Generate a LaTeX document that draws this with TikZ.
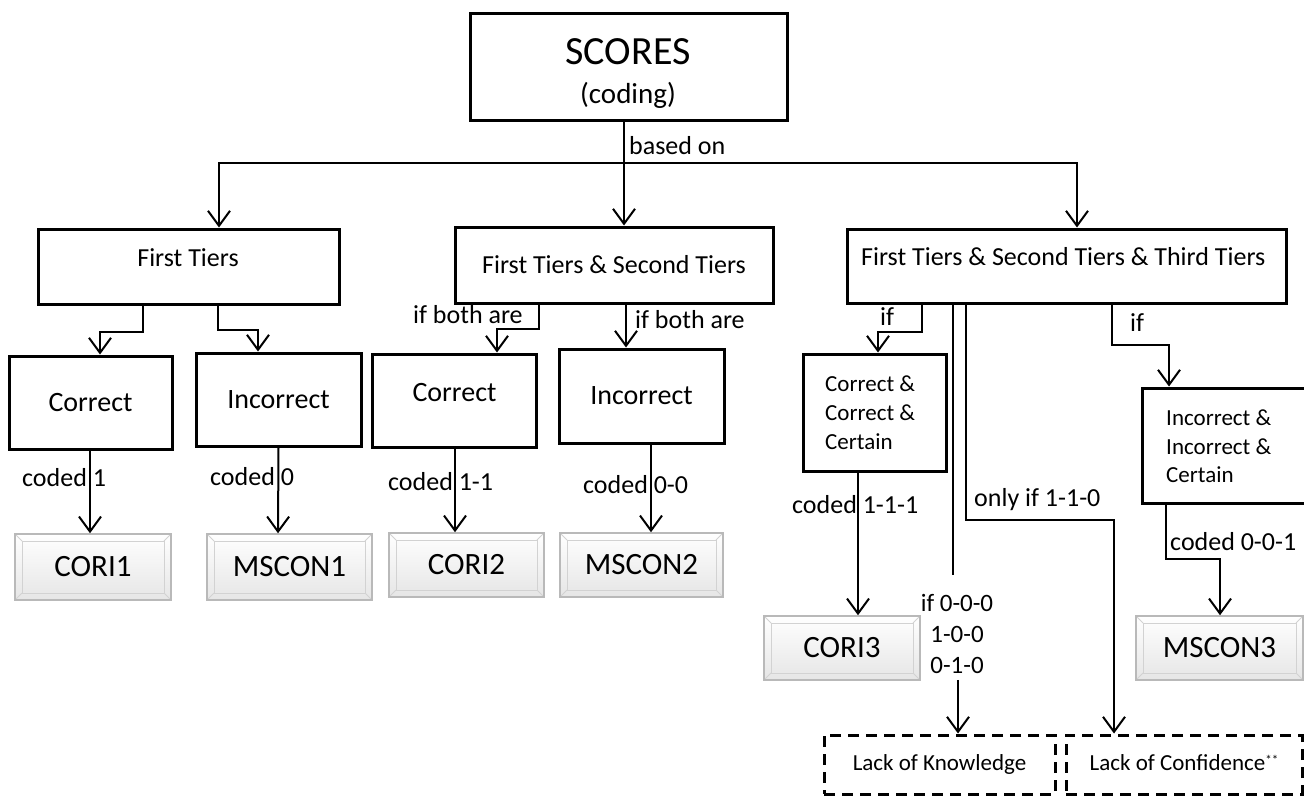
\documentclass[tikz,border=0pt]{standalone}
\usepackage{fontspec}
\setmainfont{Carlito}
\usetikzlibrary{arrows.meta}
\newcommand{\fsz}[1]{\fontsize{#1}{#1}\selectfont}
\begin{document}
\begin{tikzpicture}[x=1pt,y=-1pt,
  box/.style={draw, line width=3pt, inner sep=0pt},
  res/.style={draw=gray!55, line width=1.5pt, inner sep=0pt, top color=white, bottom color=gray!20,
    font=\fsz{31},
    path picture={
      \draw[gray!35, line width=.8pt]
        ([xshift=7pt,yshift=7pt]path picture bounding box.south west) rectangle
        ([xshift=-7pt,yshift=-7pt]path picture bounding box.north east);
      \draw[gray!35, line width=.8pt]
        (path picture bounding box.south west) -- ([xshift=7pt,yshift=7pt]path picture bounding box.south west)
        (path picture bounding box.north east) -- ([xshift=-7pt,yshift=-7pt]path picture bounding box.north east)
        (path picture bounding box.north west) -- ([xshift=7pt,yshift=-7pt]path picture bounding box.north west)
        (path picture bounding box.south east) -- ([xshift=-7pt,yshift=7pt]path picture bounding box.south east);
    }},
  dbox/.style={draw, line width=3pt, dash pattern=on 11pt off 7pt, inner sep=0pt, font=\fsz{23},
    text height=16pt, text depth=5pt},
  conn/.style={line width=2pt},
  arr/.style={line width=2pt, -{Straight Barb[length=15pt,width=22pt]}},
  lbl/.style={inner sep=0pt, anchor=west, font=\fsz{26}},
  txt/.style={inner sep=0pt}
]
\useasboundingbox (0,0) rectangle (1304,798);
\fill[white] (0,0) rectangle (1304,798);

% top
\node[box, minimum width=317pt, minimum height=107pt] (scores) at (628.5,66.5) {};
\node[txt, font=\fsz{40}] (scoresT) at (628,52) {SCORES};
\node[txt, font=\fsz{29}] (codingT) at (628,95) {(coding)};

% tiers
\node[box, minimum width=301pt, minimum height=75pt] (ft) at (188.5,266.5) {};
\node[txt, font=\fsz{26}] (ftT) at (188,258) {First Tiers};
\node[box, minimum width=318pt, minimum height=76pt, font=\fsz{26}] (fs) at (614,265) {First Tiers \& Second Tiers};
\node[box, minimum width=439pt, minimum height=74pt] (fst) at (1066.5,266) {};
\node[txt, font=\fsz{26}, anchor=west] (fstT) at (861,257) {First Tiers \& Second Tiers \& Third Tiers};

% conditions
\node[box, minimum width=163pt, minimum height=93pt, font=\fsz{28}] (c1) at (90.5,402.5) {Correct};
\node[box, minimum width=165pt, minimum height=93pt, font=\fsz{28}] (i1) at (278.5,399.5) {Incorrect};
\node[box, minimum width=164pt, minimum height=93pt] (c2) at (454,400.5) {};
\node[txt, font=\fsz{28}] (c2T) at (454.5,393) {Correct};
\node[box, minimum width=165pt, minimum height=94pt, font=\fsz{28}] (i2) at (641.5,396) {Incorrect};
\node[box, minimum width=143pt, minimum height=117pt] (ccc) at (874.5,412.5) {};
\node[txt, anchor=west, align=left, font=\fontsize{23}{29}\selectfont] (cccT) at (825,413) {Correct \&\\Correct \&\\Certain};
\node[box, minimum width=164pt, minimum height=115pt] (iic) at (1224,445.5) {};
\node[txt, anchor=west, align=left, font=\fontsize{23}{28.5}\selectfont] (iicT) at (1166,446.5) {Incorrect \&\\Incorrect \&\\Certain};

% results
\node[res, minimum width=156pt, minimum height=66pt] (cori1) at (93,567) {CORI1};
\node[res, minimum width=165pt, minimum height=66pt] (mscon1) at (289.5,567) {MSCON1};
\node[res, minimum width=155pt, minimum height=64pt] (cori2) at (466.5,565) {CORI2};
\node[res, minimum width=163pt, minimum height=64pt] (mscon2) at (641.5,565) {MSCON2};
\node[res, minimum width=156pt, minimum height=64pt] (cori3) at (842,648) {CORI3};
\node[res, minimum width=167pt, minimum height=64pt] (mscon3) at (1219.5,648) {MSCON3};

% lack boxes
\node[dbox, minimum width=231pt, minimum height=59pt] (lok) at (939.5,764.5) {Lack of Knowledge};
\node[dbox, minimum width=236pt, minimum height=59pt] (loc) at (1184,764.5) {Lack of Confidence\smash{\raisebox{6pt}{\fsz{13}**}}};

% trunk
\coordinate (hub) at (624,163);
\draw[arr] ([xshift=-4.5pt]scores.south) -- ([xshift=10pt]fs.north);
\draw[arr] (hub) -| ([xshift=30.5pt]ft.north);
\draw[arr] (hub) -| ([xshift=10.5pt]fst.north);
\node[lbl] (basedT) at (629,146) {based on};

% first tiers
\draw[arr] ([xshift=-45.5pt]ft.south) -- ++(0,26) -| ([xshift=9.5pt]c1.north);
\draw[arr] ([xshift=29.5pt]ft.south) -- ++(0,24) -| ([xshift=-20.5pt]i1.north);
\draw[arr] ([xshift=-0.5pt]c1.south) -- ([xshift=-3pt]cori1.north);
\draw[arr] (i1.south) -- ([xshift=-11.5pt]mscon1.north);
\node[lbl] (cd1) at (22,478) {coded 1};
\node[lbl] (cd0) at (210,477) {coded 0};

% first & second
\draw[arr] ([xshift=-75pt]fs.south) -- ++(0,24) -| ([xshift=43pt]c2.north);
\draw[arr] ([xshift=12pt]fs.south) -- ([xshift=-15.5pt]i2.north);
\draw[arr] ([xshift=1pt]c2.south) -- ([xshift=-11.5pt]cori2.north);
\draw[arr] ([xshift=9.5pt]i2.south) -- ([xshift=9.5pt]mscon2.north);
\node[lbl] (ifb1) at (413,315) {if both are};
\node[lbl] (ifb2) at (635,320) {if both are};
\node[lbl] (cd11) at (388,482) {coded 1-1};
\node[lbl] (cd00) at (583,485) {coded 0-0};

% three tiers
\draw[arr] ([xshift=-144.5pt]fst.south) -- ++(0,27) -| ([xshift=3.5pt]ccc.north);
\draw[arr] ([xshift=-16.5pt]ccc.south) -- ([xshift=16pt]cori3.north);
\node[lbl] (ifL) at (880,317) {if};
\node[lbl] (cd111) at (792,505) {coded 1-1-1};

\node[txt, align=center, font=\fontsize{25}{31}\selectfont] (kcode) at (957,634) {if 0-0-0\\1-0-0\\0-1-0};
\draw[conn] ([xshift=-4pt]kcode.north |- fst.south) -- ([xshift=-4pt,yshift=19pt]kcode.north);
\draw[arr] ([xshift=1pt,yshift=-6pt]kcode.south) -- ([xshift=18.5pt]lok.north);

\draw[arr] ([xshift=-100.5pt]fst.south) -- ++(0,215) -| ([xshift=-70pt]loc.north);
\node[lbl] (only) at (974,500) {only if 1-1-0};

\draw[arr] ([xshift=45.5pt]fst.south) -- ++(0,40) -| ([xshift=-55pt]iic.north);
\node[lbl] (ifR) at (1130,323) {if};
\draw[arr] ([xshift=-58pt]iic.south) -- ++(0,54) -| ([xshift=0.5pt]mscon3.north);
\node[lbl] (cd001) at (1170,542) {coded 0-0-1};
\end{tikzpicture}
\end{document}
